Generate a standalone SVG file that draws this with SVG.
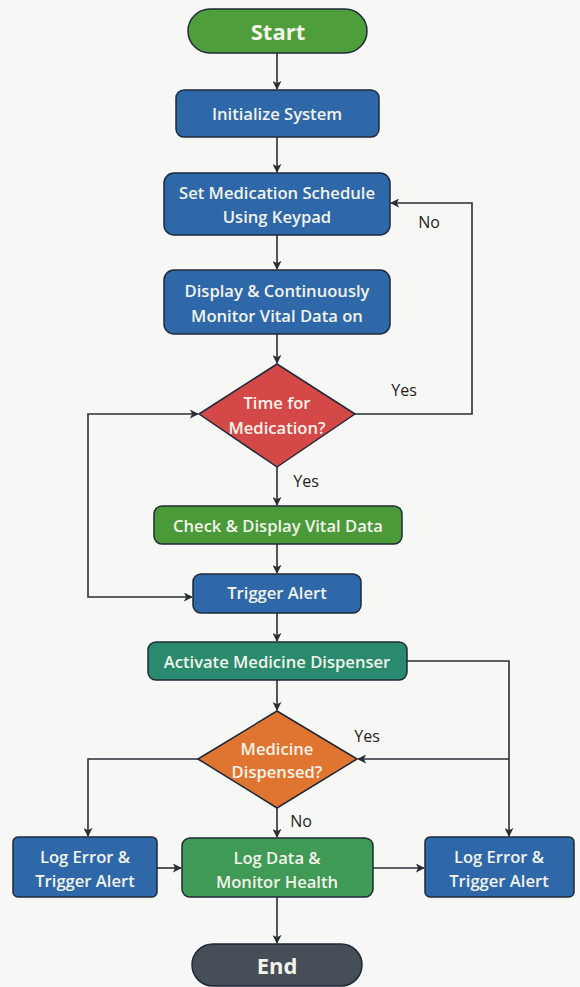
<svg xmlns="http://www.w3.org/2000/svg" width="580" height="987" viewBox="0 0 580 987">
<style>
.n{stroke:#1e2a38;stroke-width:1.5}
.t{font-family:"Open Sans","Noto Sans",sans-serif;font-weight:600;fill:#f3f3ea;text-anchor:middle;dominant-baseline:central;font-size:16.6px}
.tb{font-size:22px;font-weight:700}
.l{font-family:"Open Sans","Noto Sans",sans-serif;font-size:16px;fill:#1e1e1e;dominant-baseline:central;text-anchor:middle}
.c{fill:none;stroke:#2a2f36;stroke-width:1.6}
</style>
<defs>
<marker id="a" viewBox="0 0 10 10" refX="9" refY="5" markerWidth="9" markerHeight="9" markerUnits="userSpaceOnUse" orient="auto">
<path d="M0,0 L10,5 L0,10 L2.5,5 Z" fill="#2a2f36"/>
</marker>
</defs>
<rect width="580" height="987" fill="#f7f7f5"/>
<g id="connectors">
<path class="c" marker-end="url(#a)" d="M277,53 V89"/>
<path class="c" marker-end="url(#a)" d="M277,137 V172"/>
<path class="c" marker-end="url(#a)" d="M277,235 V269"/>
<path class="c" marker-end="url(#a)" d="M277,334 V363"/>
<path class="c" marker-end="url(#a)" d="M355,414 H472 V203 H391"/>
<path class="c" marker-end="url(#a)" d="M277,467 V505"/>
<path class="c" marker-end="url(#a)" d="M277,544 V573"/>
<path class="c" marker-end="url(#a)" d="M88,505 V414 H198"/>
<path class="c" marker-end="url(#a)" d="M88,505 V597 H192"/>
<path class="c" marker-end="url(#a)" d="M277,613 V641"/>
<path class="c" marker-end="url(#a)" d="M277,680 V710"/>
<path class="c" marker-end="url(#a)" d="M407,661 H509 V836"/>
<path class="c" marker-end="url(#a)" d="M509,759 H358"/>
<path class="c" marker-end="url(#a)" d="M198,759 H88 V836"/>
<path class="c" marker-end="url(#a)" d="M277,808 V837"/>
<path class="c" marker-end="url(#a)" d="M157,868 H181"/>
<path class="c" marker-end="url(#a)" d="M373,868 H424"/>
<path class="c" marker-end="url(#a)" d="M277,897 V943"/>
<text class="l" x="429" y="222">No</text>
<text class="l" x="404" y="390">Yes</text>
<text class="l" x="306" y="481">Yes</text>
<text class="l" x="367" y="736">Yes</text>
<text class="l" x="301" y="821">No</text>
</g>
<g id="start"><rect class="n" x="188" y="9" width="179" height="44" rx="22" fill="#4f9e3c"/><text class="t tb" x="278" y="31">Start</text></g>
<g id="init"><rect class="n" x="176" y="90" width="203" height="47" rx="8" fill="#2f68a8"/><text class="t" x="277" y="113">Initialize System</text></g>
<g id="schedule"><rect class="n" x="164" y="173" width="226" height="62" rx="10" fill="#2f68a8"/><text class="t" x="277" y="192">Set Medication Schedule</text><text class="t" x="277" y="216">Using Keypad</text></g>
<g id="display"><rect class="n" x="164" y="270" width="226" height="64" rx="10" fill="#2f68a8"/><text class="t" x="277" y="290">Display &amp; Continuously</text><text class="t" x="277" y="315">Monitor Vital Data on</text></g>
<g id="time"><path class="n" d="M277,364 L355,414 L277,467 L199,414 Z" fill="#d44848" stroke-linejoin="round"/><text class="t" x="277" y="402">Time for</text><text class="t" x="277" y="427">Medication?</text></g>
<g id="check"><rect class="n" x="154" y="506" width="248" height="38" rx="8" fill="#4a9a3a"/><text class="t" x="278" y="525">Check &amp; Display Vital Data</text></g>
<g id="trigger"><rect class="n" x="193" y="574" width="168" height="39" rx="8" fill="#2f68a8"/><text class="t" x="277" y="592">Trigger Alert</text></g>
<g id="activate"><rect class="n" x="148" y="642" width="259" height="38" rx="8" fill="#2a8a6e"/><text class="t" x="277" y="661">Activate Medicine Dispenser</text></g>
<g id="dispensed"><path class="n" d="M277,711 L357,759 L277,808 L198,759 Z" fill="#e07532" stroke-linejoin="round"/><text class="t" x="277" y="748">Medicine</text><text class="t" x="277" y="771">Dispensed?</text></g>
<g id="logerr1"><rect class="n" x="13" y="837" width="144" height="60" rx="5" fill="#2f68a8"/><text class="t" x="85" y="856">Log Error &amp;</text><text class="t" x="85" y="880">Trigger Alert</text></g>
<g id="logdata"><rect class="n" x="182" y="838" width="191" height="59" rx="8" fill="#3f9a55"/><text class="t" x="277" y="857">Log Data &amp;</text><text class="t" x="277" y="881">Monitor Health</text></g>
<g id="logerr2"><rect class="n" x="425" y="837" width="149" height="60" rx="5" fill="#2f68a8"/><text class="t" x="499" y="856">Log Error &amp;</text><text class="t" x="499" y="880">Trigger Alert</text></g>
<g id="end"><rect class="n" x="192" y="944" width="170" height="42" rx="21" fill="#464e58"/><text class="t tb" x="277" y="965">End</text></g>
</svg>
